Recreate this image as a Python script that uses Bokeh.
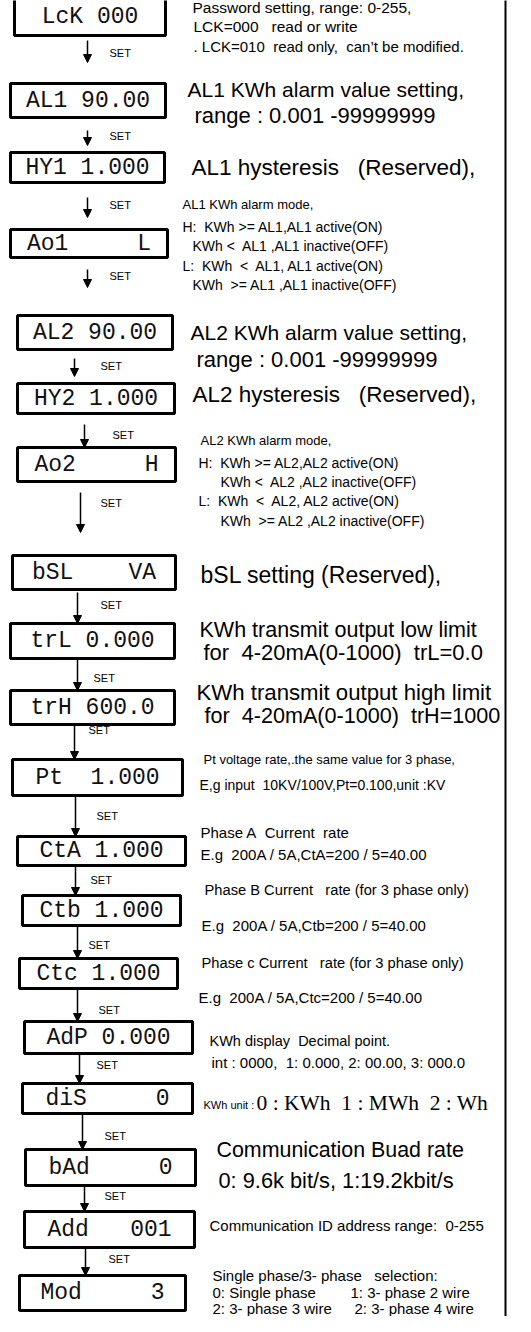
from bokeh.plotting import figure
from bokeh.models import Range1d, ColumnDataSource, Arrow, NormalHead
from bokeh.core.properties import value
from bokeh.embed import file_html
from bokeh.resources import INLINE

# ---------------- data (texts of the diagram) ----------------
lcd_labels = ["LcK 000", "AL1 90.00", "HY1 1.000", "Ao1     L", "AL2 90.00",
              "HY2 1.000", "Ao2     H", "bSL    VA", "trL 0.000", "trH 600.0",
              "Pt  1.000", "CtA 1.000", "Ctb 1.000", "Ctc 1.000", "AdP 0.000",
              "diS     0", "bAd     0", "Add   001", "Mod     3"]
step_label = "SET"
desc_text = [
    "Password setting, range: 0-255,",
    "LCK=000   read or write",
    ". LCK=010  read only,  can\u2019t be modified.",
    "AL1 KWh alarm value setting,",
    "range : 0.001 -99999999",
    "AL1 hysteresis   (Reserved),",
    "AL1 KWh alarm mode,",
    "H:  KWh >= AL1,AL1 active(ON)",
    "KWh <  AL1 ,AL1 inactive(OFF)",
    "L:  KWh  <  AL1, AL1 active(ON)",
    "KWh  >= AL1 ,AL1 inactive(OFF)",
    "AL2 KWh alarm value setting,",
    "range : 0.001 -99999999",
    "AL2 hysteresis   (Reserved),",
    "AL2 KWh alarm mode,",
    "H:  KWh >= AL2,AL2 active(ON)",
    "KWh <  AL2 ,AL2 inactive(OFF)",
    "L:  KWh  <  AL2, AL2 active(ON)",
    "KWh  >= AL2 ,AL2 inactive(OFF)",
    "bSL setting (Reserved),",
    "KWh transmit output low limit",
    "for  4-20mA(0-1000)  trL=0.0",
    "KWh transmit output high limit",
    "for  4-20mA(0-1000)  trH=1000",
    "Pt voltage rate,.the same value for 3 phase,",
    "E,g input  10KV/100V,Pt=0.100,unit :KV",
    "Phase A  Current  rate",
    "E.g  200A / 5A,CtA=200 / 5=40.00",
    "Phase B Current   rate (for 3 phase only)",
    "E.g  200A / 5A,Ctb=200 / 5=40.00",
    "Phase c Current   rate (for 3 phase only)",
    "E.g  200A / 5A,Ctc=200 / 5=40.00",
    "KWh display  Decimal point.",
    "int : 0000,  1: 0.000, 2: 00.00, 3: 000.0",
    "KWh unit :",
    "0 : KWh  1 : MWh  2 : Wh",
    "Communication Buad rate",
    "0: 9.6k bit/s, 1:19.2kbit/s",
    "Communication ID address range:  0-255",
    "Single phase/3- phase   selection:",
    "0: Single phase",
    "1: 3- phase 2 wire",
    "2: 3- phase 3 wire",
    "2: 3- phase 4 wire",
]


def keep_spaces(s):
    # SVG collapses runs of blanks; keep the runs with no-break spaces
    out, run = [], 0
    for ch in s + "\0":
        if ch == " ":
            run += 1
            continue
        if run:
            out.append("\u00a0" * (run - 1) + " " if run > 1 else " ")
            run = 0
        if ch != "\0":
            out.append(ch)
    return "".join(out).replace(" \u00a0", "\u00a0\u00a0")


# ---------------- layout (pixel positions, sizes, styles) ----------------
box_top = [5, 91, 160, 237, 323, 391, 455, 563, 631, 698, 767, 844, 903, 966,
           1029, 1091, 1157, 1219, 1283]
box_bottom = [43, 125, 190, 265, 357, 421, 489, 597, 666, 732, 803, 873, 933, 996,
              1061, 1121, 1193, 1255, 1318]
box_left = [22, 18, 18, 18, 25, 25, 25, 20, 18, 18, 20, 25, 30, 27, 32, 30, 33, 32, 27]
box_right = [173, 173, 172, 175, 180, 182, 183, 183, 182, 182, 190, 193, 188, 185,
             200, 200, 203, 202, 193]

arrow_x = [95, 95, 95, 95, 82, 92, 88, 85, 85, 82, 83, 83, 85, 85, 87, 90, 92, 93]
arrow_y0 = [48, 138, 205, 277, 366, 432, 500, 600, 666, 732, 803, 873, 933, 996,
            1061, 1121, 1193, 1255]
arrow_y1 = [70, 153, 225, 295, 384, 455, 540, 631, 698, 767, 844, 903, 966, 1029,
            1091, 1157, 1219, 1283]
set_x = [117, 117, 117, 117, 108, 120, 108, 108, 101, 96, 104, 98, 96, 106, 104,
         112, 112, 116]
set_y = [60, 143, 212, 283, 373, 442, 510, 612, 685, 737, 823, 887, 952, 1017,
         1072, 1143, 1203, 1266]

desc_x = [200, 201, 201, 195, 202, 199, 190, 190, 200, 190, 200,
          198, 204, 200, 208, 206, 228, 206, 228,
          208, 207, 211, 204, 212, 211, 207,
          208, 208, 212, 209, 209, 206,
          217, 219, 211, 264, 224, 226, 217,
          220, 220, 358, 220, 362]
desc_y = [15, 34, 54, 97, 123, 175, 212, 234, 253, 273, 292,
          340, 367, 402, 448, 470, 489, 508, 528,
          582, 637, 660, 700, 723, 767, 792,
          840, 862, 897, 933, 970, 1005,
          1048, 1070, 1112, 1110, 1157, 1188, 1233,
          1283, 1300, 1300, 1316, 1316]
desc_size = ["15.5px", "15.5px", "15px", "21px", "22px", "22.5px", "13px",
             "14px", "14px", "14px", "14px",
             "21px", "22px", "22.5px", "13px", "14px", "14px", "14px", "14px",
             "23px", "21.5px", "22px", "22.2px", "21.6px", "13px", "14px",
             "15px", "15px", "14.7px", "15px", "14.7px", "15px",
             "14.5px", "15px", "11px", "21.5px", "21.4px", "21.8px", "15px",
             "15px", "15px", "15px", "15px", "15px"]
desc_font = ["Liberation Sans"] * len(desc_text)
desc_font[35] = "Liberation Serif"

W, H = 515, 1316
p = figure(width=W, height=H, output_backend="svg", toolbar_location=None,
           x_range=Range1d(8, 8 + W), y_range=Range1d(8 + H, 8),
           min_border=0)
p.axis.visible = False
p.grid.visible = False
p.outline_line_color = None
p.background_fill_color = "white"
p.border_fill_color = "white"

# right frame line
p.segment(x0=[513], y0=[0], x1=[513], y1=[1340], line_color="black", line_width=2)

# LCD boxes
box_src = ColumnDataSource(dict(
    left=box_left, right=box_right, top=box_top, bottom=box_bottom,
    cx=[(a + b) / 2 for a, b in zip(box_left, box_right)],
    cy=[(a + b) / 2 for a, b in zip(box_top, box_bottom)],
    label=[keep_spaces(s) for s in lcd_labels]))
p.quad(left="left", right="right", top="top", bottom="bottom", source=box_src,
       fill_color="white", line_color="black", line_width=3)
p.text(x="cx", y="cy", text="label", source=box_src, text_align="center",
       text_baseline="middle", text_font=value("Liberation Mono"),
       text_font_size="23px", text_color="#111111")

# arrows
arr_src = ColumnDataSource(dict(x=arrow_x, y0=arrow_y0, y1=arrow_y1))
p.add_layout(Arrow(x_start="x", y_start="y0", x_end="x", y_end="y1", source=arr_src,
                   line_width=1.5, line_color="black",
                   end=NormalHead(size=8, fill_color="black", line_color="black")))
set_src = ColumnDataSource(dict(x=set_x, y=set_y, t=[step_label] * len(set_x)))
p.text(x="x", y="y", text="t", source=set_src, text_align="left",
       text_baseline="middle", text_font=value("Liberation Sans"),
       text_font_size="11px", text_color="black")

# descriptions
d_src = ColumnDataSource(dict(x=desc_x, y=desc_y, t=[keep_spaces(s) for s in desc_text],
                              s=desc_size, f=desc_font))
p.text(x="x", y="y", text="t", source=d_src, text_align="left", text_baseline="middle",
       text_font="f", text_font_size="s", text_color="black")

open("out.html", "w").write(file_html(p, INLINE))
